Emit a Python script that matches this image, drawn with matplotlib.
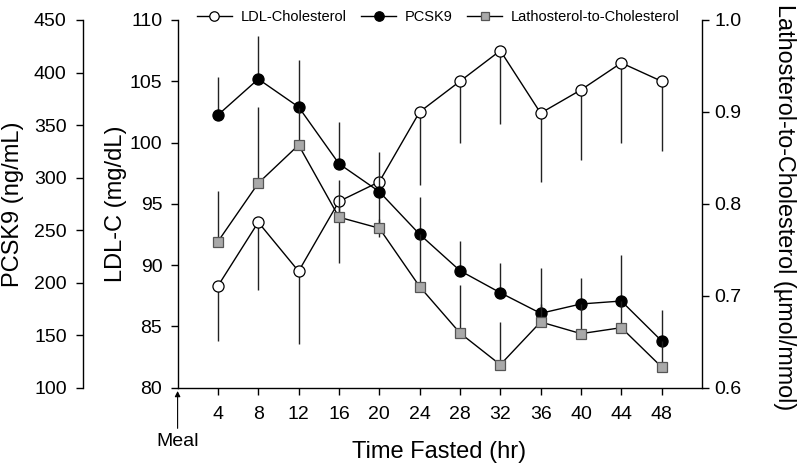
import matplotlib
matplotlib.use('Agg')
import matplotlib.pyplot as plt
from matplotlib.ticker import FormatStrFormatter

plt.rcParams['font.family'] = ['Liberation Sans', 'DejaVu Sans']

# data
hours = [4, 8, 12, 16, 20, 24, 28, 32, 36, 40, 44, 48]

ldl = [88.3, 93.5, 89.5, 95.2, 96.8, 102.5, 105.0, 107.5, 102.4, 104.3, 106.5, 105.0]
ldl_err_lo = [4.5, 5.5, 5.9, 5.0, 4.5, 6.0, 5.0, 6.0, 5.6, 5.7, 6.5, 5.7]

pcsk9 = [359.6, 393.8, 367.2, 313.2, 286.6, 246.0, 211.4, 190.4, 170.8, 179.7, 182.5, 144.5]
pcsk9_err_hi = [36, 41, 45, 39.4, 38, 35.5, 28, 28, 43, 25, 44, 29.5]

lath = [0.759, 0.8225, 0.864, 0.7855, 0.7735, 0.710, 0.6595, 0.625, 0.6715, 0.6588, 0.6653, 0.6225]
lath_err_hi = [0.055, 0.083, 0.04, 0.04, 0.01, 0.057, 0.052, 0.0465, 0.02, 0.032, 0.029, 0.028]

zeros = [0] * len(hours)

W, H = 797, 467
fig = plt.figure(figsize=(W / 100, H / 100), dpi=100)
x0, x1, ytop, ybot = 177.6, 702.0, 20.0, 387.7
ax = fig.add_axes([x0 / W, (H - ybot) / H, (x1 - x0) / W, (ybot - ytop) / H])
ax_p = ax.twinx()
ax_l = ax.twinx()

err_kw = dict(ecolor='#222222', elinewidth=1.0, capsize=0, color='k', lw=1.0)

h1 = ax.errorbar(hours, ldl, yerr=[ldl_err_lo, zeros], fmt='-o', ms=8, mfc='white',
                 mec='k', mew=0.9, label='LDL-Cholesterol', **err_kw)
h2 = ax_p.errorbar(hours, pcsk9, yerr=[zeros, pcsk9_err_hi], fmt='-o', ms=8, mfc='k',
                   mec='k', mew=0.9, label='PCSK9', **err_kw)
h3 = ax_l.errorbar(hours, lath, yerr=[zeros, lath_err_hi], fmt='-s', ms=7, mfc='#a9a9a9',
                   mec='#555555', mew=0.9, label='Lathosterol-to-Cholesterol', **err_kw)

# main (LDL) axis
ax.set_xlim(0, 52)
ax.set_ylim(80, 110)
ax.set_xticks(hours)
ax.set_yticks(range(80, 111, 5))
ax.spines['top'].set_visible(False)
ax.spines['right'].set_visible(False)
ax.set_xlabel('Time Fasted (hr)', fontsize=17)
ax.xaxis.set_label_coords(0.4985, -0.174)
ax.xaxis.label.set_va('center')
ax.set_ylabel('LDL-C (mg/dL)', fontsize=17)
ax.yaxis.set_label_coords(-0.1175, 0.5)
ax.yaxis.label.set_va('center')
ax.tick_params(axis='x', labelsize=14, length=5, width=1, pad=8)
ax.tick_params(axis='y', labelsize=14, length=5, width=1, pad=6)

# PCSK9 axis, moved out to the left
ax_p.set_ylim(100, 450)
ax_p.set_yticks(range(100, 451, 50))
ax_p.spines['left'].set_position(('axes', (83.3 - x0) / (x1 - x0)))
ax_p.spines['left'].set_visible(True)
for s in ['top', 'right', 'bottom']:
    ax_p.spines[s].set_visible(False)
ax_p.yaxis.set_ticks_position('left')
ax_p.yaxis.set_label_position('left')
ax_p.set_ylabel('PCSK9 (ng/mL)', fontsize=17)
ax_p.yaxis.set_label_coords(-0.313, 0.5)
ax_p.yaxis.label.set_va('center')
ax_p.tick_params(axis='y', labelsize=14, length=5, width=1, pad=7)

# lathosterol axis on the right
ax_l.set_ylim(0.6, 1.0)
ax_l.set_yticks([0.6, 0.7, 0.8, 0.9, 1.0])
ax_l.yaxis.set_major_formatter(FormatStrFormatter('%.1f'))
for s in ['top', 'left', 'bottom']:
    ax_l.spines[s].set_visible(False)
ax_l.set_ylabel('Lathosterol-to-Cholesterol (\u00b5mol/mmol)', fontsize=16.8, rotation=270)
ax_l.yaxis.set_label_coords(1.1564, 0.49)
ax_l.yaxis.label.set_va('center')
ax_l.tick_params(axis='y', labelsize=14, length=5, width=1, pad=4)

for a in (ax, ax_p, ax_l):
    for s in a.spines.values():
        s.set_linewidth(1.0)

# meal marker
ax.annotate('Meal', xy=(0, -0.009), xytext=(0, -0.145),
            xycoords=ax.get_xaxis_transform(), textcoords=ax.get_xaxis_transform(),
            ha='center', va='center', fontsize=14, annotation_clip=False,
            arrowprops=dict(arrowstyle='-|>', lw=0.8, color='k', mutation_scale=8,
                            shrinkA=1, shrinkB=0))

# legend uses plain line+marker handles (no error bar glyph)
leg = ax_l.legend([h1[0], h2[0], h3[0]],
                  ['LDL-Cholesterol', 'PCSK9', 'Lathosterol-to-Cholesterol'],
                  loc='center', bbox_to_anchor=(0.4975, 1.009), ncol=3, frameon=False,
                  fontsize=10.5, handlelength=2.4, columnspacing=1.0, handletextpad=0.6,
                  borderaxespad=0, markerscale=0.85)

fig.savefig('out.png', dpi=100)
